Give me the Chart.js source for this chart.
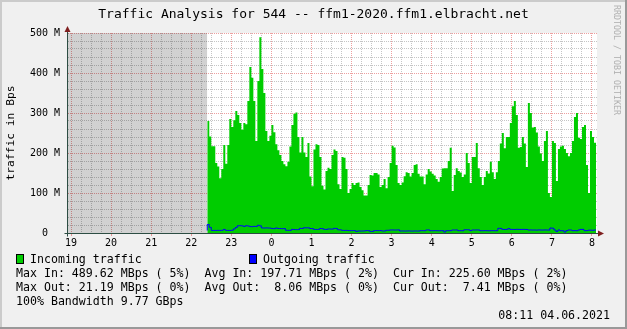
<!DOCTYPE html>
<html>
<head>
<meta charset="utf-8">
<title>Traffic Analysis for 544</title>
<script src="https://cdn.jsdelivr.net/npm/chart.js@4.4.1/dist/chart.umd.min.js"></script>
<style>
  html, body { margin: 0; padding: 0; background: #f0f0f0; }
  #graph { position: relative; width: 627px; height: 329px; overflow: hidden; background: #f0f0f0;
           font-family: "DejaVu Sans Mono", monospace; color: #000; }
  #graph canvas { position: absolute; left: 0; top: 0; }
  .txt { position: absolute; white-space: pre; }
  .legend { font-size: 11.6px; line-height: 14px; }
  .box { position: absolute; box-sizing: border-box; width: 8px; height: 10px; border: 1px solid #000; }
  .shade { position: absolute; }
</style>
</head>
<body>
<div id="graph">
  <canvas id="chart" width="627" height="329"></canvas>

  <div class="txt" style="left:0;top:6px;width:627px;text-align:center;font-size:13px;line-height:16px">Traffic Analysis for 544 -- ffm1-2020.ffm1.elbracht.net</div>
  <div class="txt" style="left:-49px;top:126px;width:120px;text-align:center;font-size:11.3px;line-height:14px;transform:rotate(-90deg)">traffic in Bps</div>
  <div class="txt" style="left:557px;top:55px;width:120px;text-align:center;font-size:8.3px;line-height:10px;color:#b0b0b0;transform:rotate(90deg)">RRDTOOL / TOBI OETIKER</div>

  <div class="box" style="left:16px;top:254px;background:#00cc00"></div>
  <div class="txt legend" style="left:30px;top:252px">Incoming traffic</div>
  <div class="box" style="left:249px;top:254px;background:#0000ff"></div>
  <div class="txt legend" style="left:263px;top:252px">Outgoing traffic</div>
  <div class="txt legend" style="left:16px;top:266px">Max In: 489.62 MBps ( 5%)  Avg In: 197.71 MBps ( 2%)  Cur In: 225.60 MBps ( 2%)</div>
  <div class="txt legend" style="left:16px;top:280px">Max Out: 21.19 MBps ( 0%)  Avg Out:  8.06 MBps ( 0%)  Cur Out:  7.41 MBps ( 0%)</div>
  <div class="txt legend" style="left:16px;top:294px">100% Bandwidth 9.77 GBps</div>
  <div class="txt legend" style="right:17px;top:308px">08:11 04.06.2021</div>

  <div class="shade" style="left:0;top:0;width:627px;height:2px;background:#cbcbcb"></div>
  <div class="shade" style="left:0;top:0;width:2px;height:329px;background:#cbcbcb"></div>
  <div class="shade" style="right:0;top:0;width:2px;height:329px;background:#999999"></div>
  <div class="shade" style="left:0;bottom:0;width:627px;height:2px;background:#999999"></div>
</div>

<script>
  // time axis, hours after 19:00
  const axisStart = -0.1;     // 18:54
  const axisEnd = 13.125;     // 08:07:30
  const sampleStart = 3.4;    // 22:24, first sample after the gap
  const sampleStep = 0.05;    // 3 minutes
  const hourLabels = ["19", "20", "21", "22", "23", "0", "1", "2", "3", "4", "5", "6", "7", "8"];
  const yMax = 500;           // M

  // incoming traffic, MBps
  const inTraffic = [
    310, 280, 241, 217, 217, 175, 166, 137, 160, 220,
    173, 220, 285, 265, 282, 305, 295, 275, 258, 275,
    272, 330, 415, 388, 330, 230, 380,
    489.62, 410, 350, 255, 230, 243, 270, 252, 222, 207,
    195, 180, 172, 167, 178, 216, 270, 298, 301, 240,
    201, 240, 201, 190, 225, 141, 117, 209,
    222, 220, 190, 118, 109, 155, 163, 160, 195, 209,
    205, 122, 110, 190, 188, 160, 100, 110, 125, 120,
    125, 126, 115, 107, 94, 94, 120, 145,
    144, 150, 150, 146, 115, 120, 135, 112, 140, 175,
    218, 214, 170, 125, 120, 126, 142, 152, 150, 141,
    150, 170, 172, 148, 141, 141, 122, 146,
    160, 154, 148, 144, 135, 128, 140, 161, 162, 162,
    180, 213, 105, 145, 162, 155, 151, 140, 146, 200,
    175, 125, 190, 190, 225, 162, 140, 120,
    140, 155, 149, 178, 152, 135, 152, 180, 224, 250,
    212, 240, 240, 275, 317, 330, 295, 213, 215, 240,
    224, 165, 325, 300, 264, 265, 251, 216,
    199, 180, 230, 255, 100, 90, 230, 225, 130, 210,
    216, 218, 210, 200, 192, 200, 230, 290, 300, 238,
    235, 265, 270, 170, 100, 255, 240, 225.6
  ];

  // outgoing traffic, MBps
  const outTraffic = [
    6.2, 21.2, 14.1, 6.3, 6.5, 6.4, 6.6, 6.5, 6.7, 9.0,
    6.6, 6.5, 6.4, 6.8, 10.2, 14.0, 18.1, 18.3, 17.9, 16.4,
    18.2, 17.6, 16.1, 15.8, 16.6, 16.4, 19.3, 18.0, 12.6, 12.4,
    12.7, 12.5, 12.3, 11.1, 10.9, 12.6, 11.2, 11.0, 10.8, 11.1,
    6.8, 6.7, 6.6, 9.1, 8.6, 8.4, 8.5, 11.6, 11.4, 13.1,
    12.9, 13.0, 11.2, 10.9, 9.1, 8.9, 9.0, 11.1, 10.8, 9.2,
    8.9, 10.1, 10.0, 9.8, 11.6, 11.3, 8.1, 7.9, 6.6, 6.4,
    6.5, 6.1, 5.9, 6.0, 6.2, 4.1, 5.1, 4.9, 5.0, 5.2,
    6.1, 5.9, 4.1, 3.9, 6.0, 6.1, 5.9, 6.2, 5.1, 4.9,
    6.7, 6.8, 7.5, 7.6, 7.4, 7.5, 7.7, 5.0, 5.1, 4.9,
    5.0, 5.2, 5.0, 4.8, 5.1, 5.0, 4.9, 5.8, 5.9, 5.7,
    7.5, 7.6, 5.8, 5.7, 5.9, 5.8, 5.6, 5.8, 5.9, 2.6,
    5.8, 5.7, 5.9, 7.5, 7.4, 7.6, 5.8, 5.9, 5.7, 8.0,
    8.1, 7.9, 6.0, 7.5, 7.4, 7.6, 7.5, 5.8, 5.7, 5.9,
    5.8, 5.6, 5.8, 5.9, 5.7, 5.8, 11.7, 11.5, 9.1, 8.9,
    9.0, 11.0, 9.1, 9.0, 8.8, 9.2, 9.0, 8.9, 9.1, 9.0,
    8.8, 7.5, 7.6, 7.4, 7.5, 7.3, 7.6, 7.5, 7.4, 7.6,
    7.5, 7.4, 12.5, 12.0, 7.5, 4.0, 7.6, 5.8, 5.7, 2.5,
    5.9, 7.5, 7.4, 5.8, 5.9, 5.7, 7.5, 9.0, 9.1, 5.8,
    5.9, 7.0, 7.1, 6.9, 7.41
  ];

  // Colors
  const inColor = "#00cc00";
  const outColor = "#0000ff";
  const unknownColor = "rgba(0, 0, 0, 0.18)";
  const majorGrid = "rgba(224, 80, 80, 0.55)";
  const minorGrid = "rgba(140, 140, 140, 0.5)";
  const axisColor = "#2c4d43";
  const arrowColor = "#7f1f1f";

  const isHour = (v) => Math.abs(v - Math.round(v)) < 1e-6;
  const toPoints = (arr) => arr.map((v, i) => ({ x: sampleStart + i * sampleStep, y: v }));

  // quarter hour grid
  const quarterTicks = [];
  for (let q = 0; q <= hourLabels.length * 4 - 4; q++) quarterTicks.push(q / 4);

  // white plot area
  const plotBg = {
    id: "plotBg",
    beforeDraw(chart) {
      const { ctx, chartArea: a } = chart;
      ctx.save();
      ctx.fillStyle = "#ffffff";
      ctx.fillRect(a.left, a.top, a.right - a.left, a.bottom - a.top);
      ctx.restore();
    }
  };

  // axis overhang + arrow heads
  const axisArrows = {
    id: "axisArrows",
    afterDraw(chart) {
      const { ctx, chartArea: a } = chart;
      const bx = Math.round(a.left) + 0.5;
      const by = Math.round(a.bottom) + 0.5;
      ctx.save();
      ctx.strokeStyle = axisColor;
      ctx.lineWidth = 1;
      ctx.beginPath();
      ctx.moveTo(bx - 3, by); ctx.lineTo(a.right + 2, by);
      ctx.moveTo(bx, by + 3); ctx.lineTo(bx, a.top - 2);
      ctx.stroke();
      ctx.fillStyle = arrowColor;
      ctx.beginPath();
      ctx.moveTo(a.right + 1, by - 3); ctx.lineTo(a.right + 7, by); ctx.lineTo(a.right + 1, by + 3);
      ctx.fill();
      ctx.beginPath();
      ctx.moveTo(bx - 3, a.top - 1); ctx.lineTo(bx, a.top - 7); ctx.lineTo(bx + 3, a.top - 1);
      ctx.fill();
      ctx.restore();
    }
  };

  Chart.defaults.font.family = '"DejaVu Sans Mono", monospace';
  Chart.defaults.font.size = 10;
  Chart.defaults.color = "#000";

  new Chart(document.getElementById("chart"), {
    type: "line",
    data: {
      datasets: [
        {
          label: "Outgoing traffic",
          data: toPoints(outTraffic),
          borderColor: outColor,
          borderWidth: 1,
          stepped: "after",
          fill: false,
          pointRadius: 0
        },
        {
          label: "Incoming traffic",
          data: toPoints(inTraffic),
          borderColor: "rgba(0, 0, 0, 0)",
          borderWidth: 0,
          backgroundColor: inColor,
          stepped: "after",
          fill: "origin",
          pointRadius: 0
        },
        {
          label: "unknown",
          data: [{ x: axisStart, y: yMax }, { x: sampleStart, y: yMax }],
          borderColor: "rgba(0, 0, 0, 0)",
          borderWidth: 0,
          backgroundColor: unknownColor,
          fill: "origin",
          pointRadius: 0
        }
      ]
    },
    options: {
      responsive: false,
      animation: false,
      devicePixelRatio: 1,
      layout: { padding: { left: 0, top: 33, right: 30, bottom: 0 } },
      plugins: {
        legend: { display: false },
        tooltip: { enabled: false },
        title: { display: false }
      },
      scales: {
        x: {
          type: "linear",
          min: axisStart,
          max: axisEnd,
          afterFit: (s) => { s.height = 96; },
          afterBuildTicks: (s) => { s.ticks = quarterTicks.map((v) => ({ value: v })); },
          grid: {
            color: (c) => (isHour(c.tick.value) ? majorGrid : minorGrid),
            tickColor: (c) => (isHour(c.tick.value) ? majorGrid : "rgba(0, 0, 0, 0)"),
            tickLength: 3,
            lineWidth: 1
          },
          border: { display: true, color: axisColor, dash: [1, 1] },
          ticks: {
            autoSkip: false,
            maxRotation: 0,
            padding: 1,
            callback: (v) => (isHour(v) ? hourLabels[Math.round(v)] : "")
          }
        },
        y: {
          min: 0,
          max: yMax,
          afterFit: (s) => { s.width = 67; },
          grid: {
            color: (c) => (c.tick.value % 100 === 0 ? majorGrid : minorGrid),
            drawTicks: false,
            lineWidth: 1
          },
          border: { display: true, color: axisColor, dash: [1, 1] },
          ticks: {
            stepSize: 20,
            autoSkip: false,
            crossAlign: "center",
            padding: 7,
            callback: (v) => (v % 100 === 0 ? (v === 0 ? "0" : `${v} M`) : "")
          }
        }
      }
    },
    plugins: [plotBg, axisArrows]
  });
</script>
</body>
</html>
